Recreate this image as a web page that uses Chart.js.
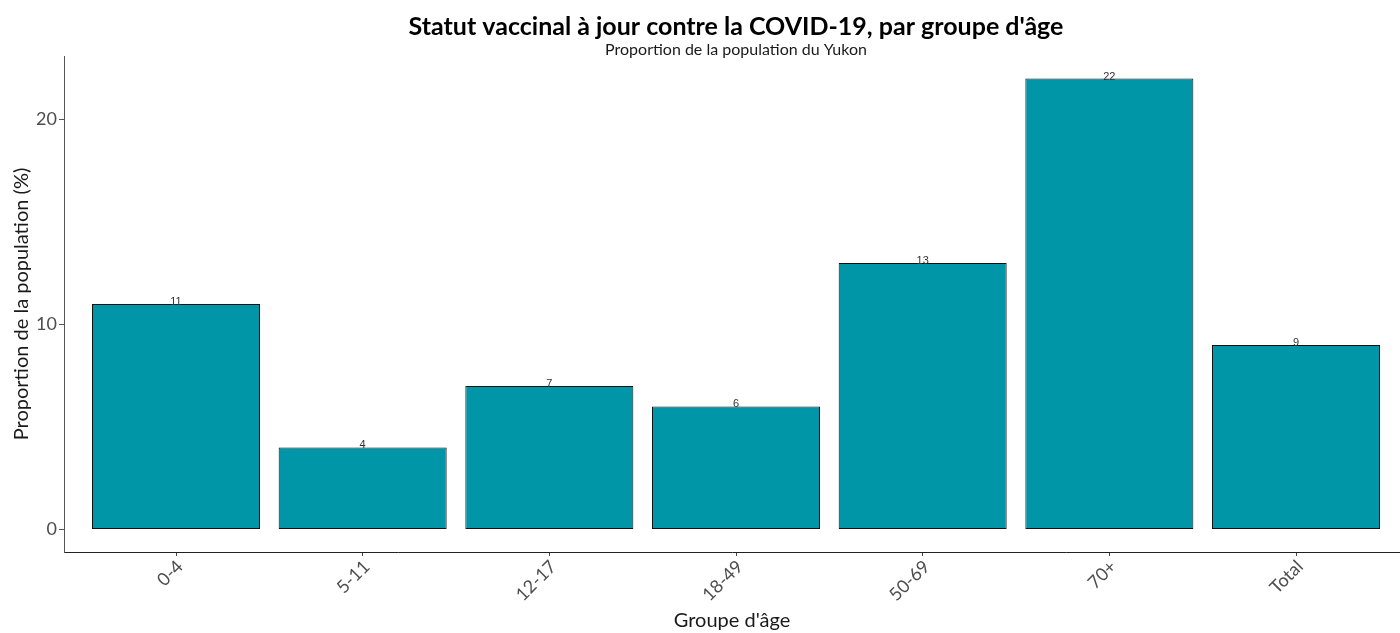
<!DOCTYPE html>
<html>
<head>
<meta charset="utf-8">
<script src="https://cdn.jsdelivr.net/npm/chart.js@4"></script>
<style>
  html, body { margin: 0; padding: 0; background: #fff; }
  #wrap { width: 1400px; height: 633px; }
</style>
</head>
<body>
<div id="wrap"><canvas id="vaxChart"></canvas></div>
<script>
// Statut vaccinal par groupe d'âge (Yukon)
const categories = ['0-4', '5-11', '12-17', '18-49', '50-69', '70+', 'Total'];
const proportions = [11, 4, 7, 6, 13, 22, 9];
const yTicks = [0, 10, 20];

const titleText = "Statut vaccinal à jour contre la COVID-19, par groupe d'âge";
const subtitleText = 'Proportion de la population du Yukon';
const barColor = '#0096A8';

// value labels above each bar
const valueLabels = {
  id: 'valueLabels',
  afterDatasetsDraw(chart) {
    const ctx = chart.ctx;
    const meta = chart.getDatasetMeta(0);
    ctx.save();
    ctx.font = '11px "Liberation Sans", Arial, sans-serif';
    ctx.fillStyle = '#333333';
    ctx.textAlign = 'center';
    ctx.textBaseline = 'alphabetic';
    meta.data.forEach((bar, i) => {
      ctx.fillText(String(proportions[i]), bar.x, bar.y + 1);
    });
    ctx.restore();
  }
};

// title + subtitle centred over the panel (ggplot style), not the canvas
const panelTitles = {
  id: 'panelTitles',
  afterDraw(chart) {
    const ctx = chart.ctx;
    const x = chart.scales.x;
    const cx = (x.getPixelForValue(-0.6) + x.getPixelForValue(6.6)) / 2;
    ctx.save();
    ctx.textAlign = 'center';
    ctx.textBaseline = 'middle';
    ctx.fillStyle = '#000000';
    ctx.font = 'bold 25px Lato';
    ctx.fillText(titleText, cx, 27);
    ctx.fillStyle = '#1a1a1a';
    ctx.font = '16px Lato';
    ctx.fillText(subtitleText, cx, 50);
    ctx.restore();
  }
};

new Chart(document.getElementById('vaxChart'), {
  type: 'bar',
  data: {
    datasets: [{
      data: proportions.map((v, i) => ({ x: i, y: v })),
      backgroundColor: barColor,
      borderColor: '#111111',
      borderWidth: 1,
      borderSkipped: false,
      barPercentage: 0.9,
      categoryPercentage: 1.0
    }]
  },
  options: {
    responsive: true,
    maintainAspectRatio: false,
    animation: false,
    layout: { padding: { top: 56, left: 0, right: 0, bottom: 0 } },
    plugins: {
      legend: { display: false },
      tooltip: { enabled: false },
      title: { display: false },
      subtitle: { display: false }
    },
    scales: {
      x: {
        type: 'linear',
        min: -0.6,
        max: 6.557,
        offset: false,
        afterBuildTicks(scale) {
          scale.ticks = categories.map((c, i) => ({ value: i }));
        },
        afterFit(scale) {
          scale.height = 81;
          scale.paddingLeft = 0;
          scale.paddingRight = 0;
        },
        ticks: {
          autoSkip: false,
          maxRotation: 45,
          minRotation: 45,
          padding: 0,
          labelOffset: 4,
          color: '#4d4d4d',
          font: { family: 'Lato', size: 18 },
          callback: (v) => categories[v]
        },
        grid: {
          display: true,
          offset: false,
          drawOnChartArea: false,
          drawTicks: true,
          tickLength: 4,
          color: '#444444'
        },
        border: { display: true, color: '#222222', width: 1 },
        title: {
          display: true,
          text: "Groupe d'âge",
          color: '#1a1a1a',
          font: { family: 'Lato', size: 20 },
          padding: { top: 0, bottom: 0 }
        }
      },
      y: {
        min: -1.1,
        max: 23.1,
        afterBuildTicks(scale) {
          scale.ticks = yTicks.map(v => ({ value: v }));
        },
        afterFit(scale) {
          scale.width = 64;
        },
        ticks: {
          padding: 2,
          color: '#4d4d4d',
          font: { family: 'Lato', size: 18 }
        },
        grid: {
          display: true,
          drawOnChartArea: false,
          drawTicks: true,
          tickLength: 5,
          color: '#555555'
        },
        border: { display: true, color: '#555555', width: 1 },
        title: {
          display: true,
          text: 'Proportion de la population (%)',
          color: '#1a1a1a',
          font: { family: 'Lato', size: 20 },
          padding: { top: 10, bottom: 0 }
        }
      }
    }
  },
  plugins: [valueLabels, panelTitles]
});
</script>
</body>
</html>
